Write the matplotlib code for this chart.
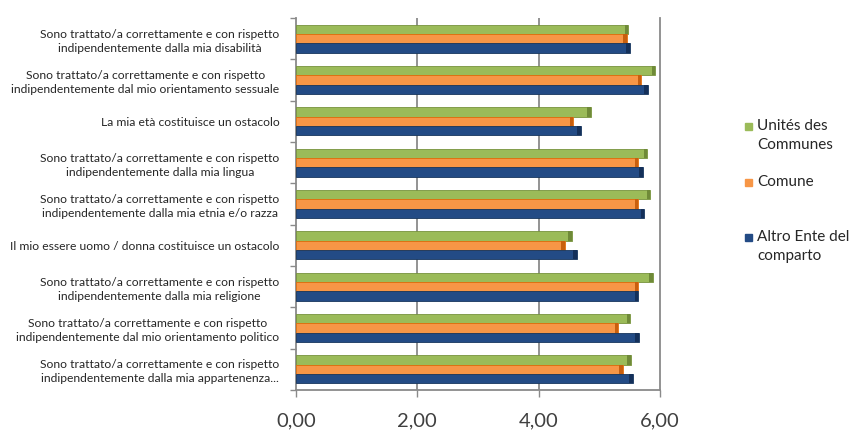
import matplotlib
matplotlib.use("Agg")
import matplotlib.pyplot as plt
import numpy as np
from matplotlib.patches import Rectangle

# Survey statements (top to bottom) and the three groups' average scores
categories = [
    "Sono trattato/a correttamente e con rispetto\nindipendentemente dalla mia disabilità",
    "Sono trattato/a correttamente e con rispetto\nindipendentemente dal mio orientamento sessuale",
    "La mia età costituisce un ostacolo",
    "Sono trattato/a correttamente e con rispetto\nindipendentemente dalla mia lingua",
    "Sono trattato/a correttamente e con rispetto\nindipendentemente dalla mia etnia e/o razza",
    "Il mio essere uomo / donna costituisce un ostacolo",
    "Sono trattato/a correttamente e con rispetto\nindipendentemente dalla mia religione",
    "Sono trattato/a correttamente e con rispetto\nindipendentemente dal mio orientamento politico",
    "Sono trattato/a correttamente e con rispetto\nindipendentemente dalla mia appartenenza...",
]
unites = [5.48, 5.92, 4.86, 5.79, 5.84, 4.55, 5.88, 5.51, 5.52]
comune = [5.45, 5.69, 4.57, 5.64, 5.64, 4.43, 5.64, 5.31, 5.39]
altro = [5.50, 5.80, 4.70, 5.72, 5.74, 4.63, 5.64, 5.65, 5.55]
series_labels = ["Unités des\nCommunes", "Comune", "Altro Ente del\ncomparto"]
x_ticks = [0, 2, 4, 6]
x_tick_labels = ["0,00", "2,00", "4,00", "6,00"]

FONT = ["Lato", "DejaVu Sans"]
plt.rcParams["font.family"] = FONT

face = ["#9BBB59", "#F79646", "#234B85"]
edge = ["#76923C", "#E36C09", "#17365D"]
cap = ["#6F8A38", "#C85F0E", "#14305A"]

W, H = 852, 430
fig = plt.figure(figsize=(W / 100, H / 100), dpi=100)
ax = fig.add_axes([296 / W, 1 - 390 / H, (660 - 296) / W, (390 - 18) / H])

y = np.arange(len(categories))
bh = 0.225
offsets = [-bh, 0.0, bh]
for vals, off, fc, ec, cc in zip([unites, comune, altro], offsets, face, edge, cap):
    vals = np.asarray(vals)
    ax.barh(y + off, vals, height=bh, color=fc, edgecolor=ec, linewidth=0.6, zorder=3)
    # darker end face gives the bars their extruded look
    ax.barh(y + off, np.full_like(vals, 0.06), left=vals - 0.06, height=bh,
            color=cc, linewidth=0, zorder=4)

ax.set_xlim(0, 6)
ax.set_ylim(len(categories) - 0.5, -0.5)

grid_c = "#8A8A8A"
for xv in x_ticks[1:-1]:
    ax.axvline(xv, color=grid_c, lw=1.3, zorder=1)
ax.spines["top"].set_visible(False)
for s in ["left", "right", "bottom"]:
    ax.spines[s].set_color(grid_c)
    ax.spines[s].set_linewidth(1.3)

ax.set_xticks(x_ticks)
ax.set_xticklabels(x_tick_labels, fontsize=14.5, color="#404040")
ax.tick_params(axis="x", length=5, width=1, color=grid_c, pad=11)

ax.set_yticks(y)
ax.set_yticklabels(categories, fontsize=8.7, color="#262626", linespacing=1.35)
for lbl in ax.get_yticklabels():
    lbl.set_multialignment("center")
ax.tick_params(axis="y", which="major", length=0, pad=12)
ax.set_yticks(np.arange(-0.5, len(categories), 1.0), minor=True)
ax.tick_params(axis="y", which="minor", length=4, width=1, color=grid_c)

# Legend entries on the right
leg_x_box, leg_x_text = 745, 757
leg_rows = [126, 182, 237]
for lab, fc, yy in zip(series_labels, face, leg_rows):
    fig.add_artist(Rectangle((leg_x_box / W, 1 - (yy + 4) / H), 7 / W, 7 / H,
                             transform=fig.transFigure, color=fc))
    fig.text(leg_x_text / W, 1 - (yy - 7) / H, lab, fontsize=11, color="#262626",
             va="top", ha="left", linespacing=1.45)

fig.savefig("out.png", dpi=100)
